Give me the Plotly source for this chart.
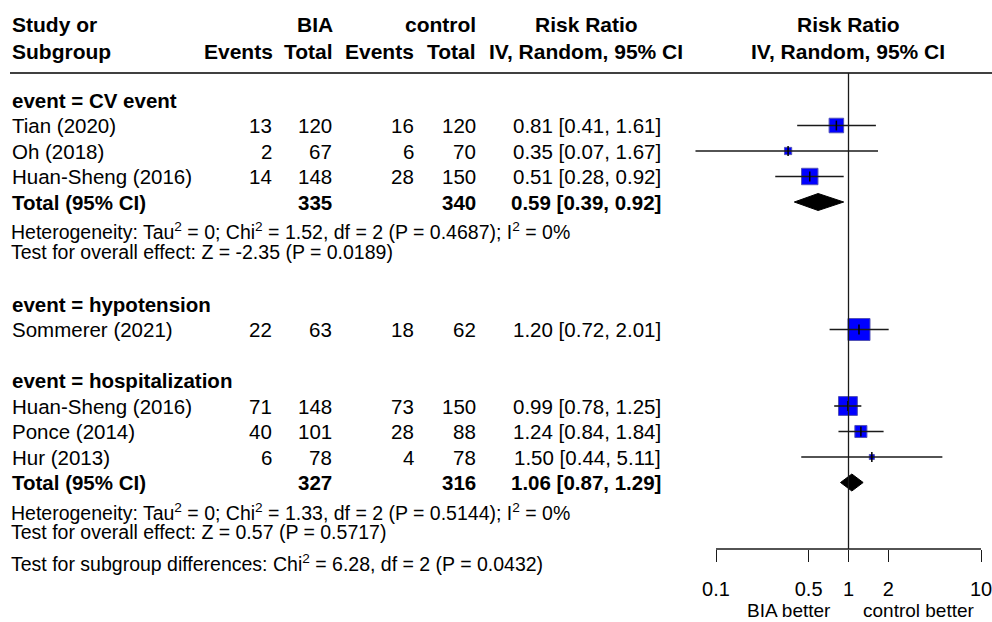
import math
import plotly.graph_objects as go

W, H = 992, 622
FONT = "Liberation Sans, Arial, sans-serif"

# ---- study-level data ----
study = ["Tian (2020)", "Oh (2018)", "Huan-Sheng (2016)", "Sommerer (2021)",
         "Huan-Sheng (2016)", "Ponce (2014)", "Hur (2013)"]
subgroup = ["CV event", "CV event", "CV event", "hypotension",
            "hospitalization", "hospitalization", "hospitalization"]
bia_events = [13, 2, 14, 22, 71, 40, 6]
bia_total = [120, 67, 148, 63, 148, 101, 78]
ctrl_events = [16, 6, 28, 18, 73, 28, 4]
ctrl_total = [120, 70, 150, 62, 150, 88, 78]
rr = [0.81, 0.35, 0.51, 1.20, 0.99, 1.24, 1.50]
rr_lo = [0.41, 0.07, 0.28, 0.72, 0.78, 0.84, 0.44]
rr_hi = [1.61, 1.67, 0.92, 2.01, 1.25, 1.84, 5.11]
weight = [40.0, 7.4, 52.6, 100.0, 71.4, 25.9, 2.7]   # % within subgroup

# ---- pooled (random-effects) subgroup data ----
groups = ["CV event", "hypotension", "hospitalization"]
pooled_group = ["CV event", "hospitalization"]
pooled_bia_total = [335, 327]
pooled_ctrl_total = [340, 316]
pooled_rr = [0.59, 1.06]
pooled_lo = [0.39, 0.87]
pooled_hi = [0.92, 1.29]
het_text = [
    "Heterogeneity: Tau<sup>2</sup> = 0; Chi<sup>2</sup> = 1.52, df = 2 (P = 0.4687); I<sup>2</sup> = 0%",
    "Heterogeneity: Tau<sup>2</sup> = 0; Chi<sup>2</sup> = 1.33, df = 2 (P = 0.5144); I<sup>2</sup> = 0%",
]
overall_text = [
    "Test for overall effect: Z = -2.35 (P = 0.0189)",
    "Test for overall effect: Z = 0.57 (P = 0.5717)",
]
subgroup_test = "Test for subgroup differences: Chi<sup>2</sup> = 6.28, df = 2 (P = 0.0432)"

# axis ticks
tick_vals = [0.1, 0.5, 1, 2, 10]
tick_text = ["0.1", "0.5", "1", "2", "10"]

# ---- layout constants (pixels) ----
ROW0_PX, PITCH = 100.0, 25.5          # first row centre and row pitch
HEADER_LINE_PX = 73
AXIS_PX = 549
X_LO_PX, X_HI_PX = 716, 981           # pixel positions of 0.1 and 10
COL_STUDY = 12
COL_BIA_EV, COL_BIA_TOT = 272, 332
COL_CTL_EV, COL_CTL_TOT = 414, 476
COL_RR = 661
COL_RR_HEAD = 586
COL_PLOT_HEAD = 848
BODY, HEAD, SMALL = 20.5, 21, 19.5
PAD = 2                               # annotation inner padding


def row_of(py):
    return (py - ROW0_PX) / PITCH


def paper_y(py):
    return 1 - py / H


# log axis mapping extended so lines past 0.1 stay visible
px_per_dec = (X_HI_PX - X_LO_PX) / 2.0
dom_l, dom_r = 680, W
x_range = [-1 - (X_LO_PX - dom_l) / px_per_dec, 1 + (dom_r - X_HI_PX) / px_per_dec]

fig = go.Figure()
ann = []


def text(xpx, row, s, anchor="left", size=BODY, bold=False):
    shift = {"left": -PAD, "right": PAD, "center": 0}[anchor]
    ann.append(dict(
        x=xpx / W, xref="paper", y=row, yref="y", text=f"<b>{s}</b>" if bold else s,
        xanchor=anchor, yanchor="middle", xshift=shift, showarrow=False,
        font=dict(family=FONT, size=size, color="black"),
    ))


# ---- column headers ----
r_h1, r_h2 = row_of(24), row_of(51)
text(COL_STUDY, r_h1, "Study or", bold=True, size=HEAD)
text(COL_STUDY, r_h2, "Subgroup", bold=True, size=HEAD)
text(COL_BIA_TOT + 1, r_h1, "BIA", "right", HEAD, True)
text(COL_CTL_TOT, r_h1, "control", "right", HEAD, True)
text(COL_BIA_EV + 1, r_h2, "Events", "right", HEAD, True)
text(COL_BIA_TOT + 1, r_h2, "Total", "right", HEAD, True)
text(COL_CTL_EV, r_h2, "Events", "right", HEAD, True)
text(COL_CTL_TOT, r_h2, "Total", "right", HEAD, True)
text(COL_RR_HEAD, r_h1, "Risk Ratio", "center", HEAD, True)
text(COL_RR_HEAD, r_h2, "IV, Random, 95% CI", "center", HEAD, True)
text(COL_PLOT_HEAD, r_h1, "Risk Ratio", "center", HEAD, True)
text(COL_PLOT_HEAD, r_h2, "IV, Random, 95% CI", "center", HEAD, True)

# ---- assign rows ----
study_rows, pooled_rows = [], []
r = 0
for g in groups:
    text(COL_STUDY, r, f"event = {g}", bold=True)
    r += 1
    for i, sg in enumerate(subgroup):
        if sg == g:
            study_rows.append((i, r))
            r += 1
    if g in pooled_group:
        k = pooled_group.index(g)
        pooled_rows.append((k, r))
        text(COL_STUDY - 1, r + 1.14, het_text[k], size=SMALL)
        text(COL_STUDY - 1, r + 1.96, overall_text[k], size=SMALL)
        r += 4
    else:
        r += 1
subgroup_row = r - 4 + 3.17
text(COL_STUDY - 1, subgroup_row, subgroup_test, size=SMALL)

# ---- study rows: table text ----
for i, rw in study_rows:
    text(COL_STUDY, rw, study[i])
    text(COL_BIA_EV, rw, str(bia_events[i]), "right")
    text(COL_BIA_TOT, rw, str(bia_total[i]), "right")
    text(COL_CTL_EV, rw, str(ctrl_events[i]), "right")
    text(COL_CTL_TOT, rw, str(ctrl_total[i]), "right")
    text(COL_RR, rw, f"{rr[i]:.2f} [{rr_lo[i]:.2f}, {rr_hi[i]:.2f}]", "right")

for k, rw in pooled_rows:
    text(COL_STUDY, rw, "Total (95% CI)", bold=True)
    text(COL_BIA_TOT, rw, str(pooled_bia_total[k]), "right", bold=True)
    text(COL_CTL_TOT, rw, str(pooled_ctrl_total[k]), "right", bold=True)
    text(COL_RR, rw, f"{pooled_rr[k]:.2f} [{pooled_lo[k]:.2f}, {pooled_hi[k]:.2f}]", "right", bold=True)

# ---- forest marks ----
sx = [rr[i] for i, _ in study_rows]
sy = [rw for _, rw in study_rows]
ssize = [1.7 + 2.03 * math.sqrt(weight[i]) for i, _ in study_rows]

fig.add_trace(go.Scatter(
    x=sx, y=sy, mode="markers",
    marker=dict(symbol="square", size=ssize, color="#0000ff", opacity=1,
                line=dict(color="#5252b8", width=1)),
    hoverinfo="skip",
))

ci_x, ci_y = [], []
for i, rw in study_rows:
    ci_x += [rr_lo[i], rr_hi[i], None]
    ci_y += [rw, rw, None]
fig.add_trace(go.Scatter(x=ci_x, y=ci_y, mode="lines",
                         line=dict(color="#1a1a1a", width=1.6), hoverinfo="skip"))

fig.add_trace(go.Scatter(
    x=sx, y=sy, mode="markers",
    marker=dict(symbol="line-ns", size=7, opacity=1, line=dict(color="black", width=1.5)),
    hoverinfo="skip",
))

half_h = 8.5 / PITCH
for k, rw in pooled_rows:
    fig.add_trace(go.Scatter(
        x=[pooled_lo[k], pooled_rr[k], pooled_hi[k], pooled_rr[k], pooled_lo[k]],
        y=[rw, rw - half_h, rw, rw + half_h, rw],
        mode="lines", fill="toself", fillcolor="black",
        line=dict(color="black", width=1), hoverinfo="skip",
    ))

# ---- reference lines ----
shapes = [
    dict(type="line", xref="paper", yref="paper", x0=10 / W, x1=1,
         y0=paper_y(HEADER_LINE_PX), y1=paper_y(HEADER_LINE_PX),
         line=dict(color="black", width=1.5)),
    dict(type="line", xref="x", yref="paper", x0=1, x1=1,
         y0=paper_y(HEADER_LINE_PX), y1=paper_y(AXIS_PX),
         line=dict(color="#1a1a1a", width=1.3)),
    dict(type="line", xref="x", yref="paper", x0=tick_vals[0], x1=tick_vals[-1],
         y0=paper_y(AXIS_PX), y1=paper_y(AXIS_PX),
         line=dict(color="#1a1a1a", width=1.3)),
]

for label, anchor, shift in [("BIA better", "right", -16), ("control better", "left", 12)]:
    ann.append(dict(x=0, xref="x", y=paper_y(610), yref="paper", text=label,
                    xanchor=anchor, yanchor="middle", xshift=shift, showarrow=False,
                    font=dict(family=FONT, size=19, color="black")))

fig.update_layout(
    width=W, height=H, margin=dict(l=0, r=0, t=0, b=0),
    paper_bgcolor="white", plot_bgcolor="white", showlegend=False,
    font=dict(family=FONT, color="black"),
    xaxis=dict(type="log", domain=[dom_l / W, 1], range=x_range,
               tickvals=tick_vals, ticktext=tick_text, ticks="outside",
               ticklen=12, tickwidth=1.3, tickcolor="#1a1a1a",
               tickfont=dict(family=FONT, size=20, color="black"),
               ticklabelstandoff=10, ticklabeloverflow="allow",
               showline=False, showgrid=False, zeroline=False,
               anchor="free", position=paper_y(AXIS_PX)),
    yaxis=dict(range=[row_of(H), row_of(0)], visible=False, domain=[0, 1]),
    shapes=shapes, annotations=ann,
)

fig.write_html("out.html")
